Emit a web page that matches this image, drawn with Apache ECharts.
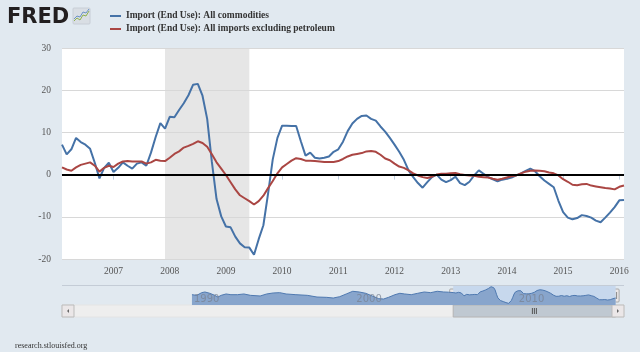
<!DOCTYPE html>
<html>
<head>
<meta charset="utf-8">
<title>Import prices</title>
<script src="https://cdn.jsdelivr.net/npm/echarts@6/dist/echarts.min.js"></script>
<style>
html, body { margin: 0; padding: 0; background: #e1e9f0; }
#chart { width: 640px; height: 352px; }
</style>
</head>
<body>
<div id="chart"></div>
<script>
// monthly, Feb 2006 .. Feb 2016, % change from year ago
var startYear = 2006, startMonth = 2;
var allCommodities = [
  7.1, 4.8, 6.0, 8.7, 7.7, 7.1, 6.1, 2.8, -0.9, 1.6,
  2.8, 0.6, 1.6, 2.9, 2.1, 1.4, 2.6, 2.9, 2.1, 5.2,
  8.9, 12.2, 10.9, 13.7, 13.6, 15.3, 16.9, 18.8, 21.3, 21.5,
  18.7, 13.2, 3.0, -5.8, -9.9, -12.3, -12.5, -14.7, -16.3, -17.2,
  -17.3, -19.0, -15.3, -12.0, -4.5, 3.6, 8.7, 11.6, 11.6, 11.5,
  11.5, 7.9, 4.5, 5.2, 4.0, 3.8, 4.0, 4.3, 5.4, 6.0,
  7.8, 10.3, 12.1, 13.2, 13.9, 14.0, 13.2, 12.8, 11.4, 10.2,
  8.7, 7.1, 5.4, 3.5, 1.0, -0.6, -2.0, -3.1, -1.8, -0.6,
  0.0, -1.2, -1.8, -1.3, -0.5, -2.0, -2.5, -1.7, -0.2, 1.0,
  0.2, -0.6, -1.1, -1.6, -1.2, -1.0, -0.7, -0.2, 0.3, 0.9,
  1.4, 0.8, -0.4, -1.4, -2.2, -3.0, -6.2, -8.9, -10.2, -10.6,
  -10.3, -9.6, -9.8, -10.2, -10.9, -11.3, -10.2, -9.0, -7.7, -6.1,
  -6.0
];
var exPetroleum = [
  1.7, 1.2, 0.9, 1.7, 2.3, 2.6, 2.9, 2.1, 0.7, 1.6,
  2.1, 1.8, 2.6, 3.1, 3.2, 3.1, 3.1, 3.1, 2.6, 2.9,
  3.5, 3.3, 3.2, 4.0, 4.9, 5.5, 6.4, 6.8, 7.3, 7.9,
  7.5, 6.6, 4.8, 2.9, 1.4, -0.1, -1.8, -3.5, -4.9, -5.6,
  -6.3, -7.1, -6.3, -5.0, -3.2, -1.5, 0.3, 1.7, 2.5, 3.3,
  3.9, 3.7, 3.3, 3.3, 3.2, 3.1, 3.0, 3.0, 3.0, 3.2,
  3.7, 4.3, 4.7, 4.9, 5.1, 5.5, 5.6, 5.4, 4.7, 3.8,
  3.4, 2.6, 1.9, 1.6, 1.0, 0.3, -0.2, -0.6, -0.8, -0.5,
  0.0, 0.2, 0.2, 0.3, 0.4, 0.1, -0.1, -0.2, -0.3, -0.5,
  -0.6, -0.7, -1.0, -1.2, -1.0, -0.7, -0.4, -0.2, 0.3, 0.7,
  0.9, 1.0, 0.9, 0.8, 0.5, 0.3, -0.2, -1.1, -1.7, -2.4,
  -2.5, -2.3, -2.2, -2.6, -2.8, -3.0, -3.2, -3.3, -3.5, -2.9,
  -2.6
];
var seriesNames = ['Import (End Use): All commodities', 'Import (End Use): All imports excluding petroleum'];
var recession = ['2007-12', '2009-06'];

// navigator: all commodities before 2006
var navYears = [1990.0, 1990.3, 1990.6, 1990.8, 1991.1, 1991.4, 1991.6, 1991.8, 1992.1, 1992.4,
  1992.8, 1993.2, 1993.6, 1994.2, 1994.6, 1995.0, 1995.4, 1995.8, 1996.4, 1997.1,
  1997.7, 1998.3, 1998.7, 1999.1, 1999.5, 1999.9, 2000.3, 2000.7, 2001.1, 2001.5,
  2001.8, 2002.1, 2002.5, 2002.8, 2003.1, 2003.5, 2003.9, 2004.3, 2004.7, 2005.1,
  2005.5, 2005.8];
var navValues = [2.0, 0.4, 6.9, 8.5, 5.3, 0.4, -3.7, 0.4, 3.7, 2.0,
  2.0, 3.7, 0.4, -1.2, 3.7, 6.1, 6.9, 3.7, 2.0, 0.4,
  -3.7, -4.5, -6.1, -2.8, 3.7, 10.2, 8.5, 5.3, -1.2, -7.7,
  -8.5, -4.5, 2.0, 5.3, 3.7, 2.0, 5.3, 8.5, 6.9, 10.2,
  8.5, 8.0];
var navLabels = [1990, 2000, 2010];

var months = [];
for (var i = 0; i < allCommodities.length; i++) {
  var t = startYear * 12 + startMonth - 1 + i;
  var yy = Math.floor(t / 12), mm = t % 12 + 1;
  months.push(yy + '-' + (mm < 10 ? '0' : '') + mm);
}
var navStart = startYear + (startMonth - 1) / 12;
var navEnd = navStart + (allCommodities.length - 1) / 12;
var navData = [];
for (var i = 0; i < navYears.length; i++) navData.push([navYears[i], navValues[i]]);
for (var i = 0; i < allCommodities.length; i++) navData.push([navStart + i / 12, allCommodities[i]]);

function isJan(idx, v) { return v.slice(5) === '01'; }

var serif = '"Liberation Serif", serif';
var chart = echarts.init(document.getElementById('chart'), null, { renderer: 'canvas' });
var option = {
  backgroundColor: '#e1e9f0',
  animation: false,
  legend: {
    orient: 'vertical', left: 110, top: 10, padding: 0,
    itemWidth: 11, itemHeight: 2, itemGap: 1, icon: 'rect',
    data: seriesNames,
    textStyle: { fontFamily: serif, fontWeight: 'bold', fontSize: 9.5, color: '#333', lineHeight: 12 }
  },
  grid: [
    { left: 62, right: 16, top: 48, height: 211, show: true, backgroundColor: '#fff', borderWidth: 0 },
    { left: 62, right: 16, top: 286, height: 19 }
  ],
  xAxis: [
    {
      type: 'category', gridIndex: 0, data: months, boundaryGap: false,
      axisLine: { lineStyle: { color: '#c0d0e0', width: 1 } },
      axisTick: { interval: isJan, length: 5, lineStyle: { color: '#c0d0e0' } },
      axisLabel: { interval: isJan, formatter: function (v) { return v.slice(0, 4); },
        fontFamily: serif, fontSize: 9.5, color: '#555', margin: 7 },
      splitLine: { show: false }
    },
    {
      type: 'value', gridIndex: 1, min: 1982, max: 2016.6, show: false
    }
  ],
  yAxis: [
    {
      type: 'value', gridIndex: 0, min: -20, max: 30, interval: 10, z: 1.5,
      axisLine: { show: false }, axisTick: { show: false },
      axisLabel: { fontFamily: serif, fontSize: 9.5, color: '#555', margin: 11 },
      splitLine: { lineStyle: { color: '#d8d8d8' } }
    },
    { type: 'value', gridIndex: 1, min: -23, max: 23, show: false }
  ],
  series: [
    {
      type: 'line', xAxisIndex: 0, yAxisIndex: 0, data: [], z: 1, silent: true,
      markArea: { silent: true, itemStyle: { color: '#e6e6e6' },
        data: [[{ xAxis: recession[0] }, { xAxis: recession[1] }]] }
    },
    {
      name: seriesNames[0], type: 'line', xAxisIndex: 0, yAxisIndex: 0, data: allCommodities,
      symbol: 'none', color: '#4572a7', lineStyle: { width: 2, color: '#4572a7' }, z: 2
    },
    {
      name: seriesNames[1], type: 'line', xAxisIndex: 0, yAxisIndex: 0, data: exPetroleum,
      symbol: 'none', color: '#aa4643', lineStyle: { width: 2, color: '#aa4643' }, z: 2
    },
    {
      type: 'line', xAxisIndex: 0, yAxisIndex: 0, data: [], z: 3, silent: true,
      markLine: { symbol: 'none', silent: true, label: { show: false },
        lineStyle: { color: '#000', width: 2, type: 'solid' }, data: [{ yAxis: 0 }] }
    },
    {
      type: 'line', xAxisIndex: 1, yAxisIndex: 1, data: [], z: 1, silent: true,
      markArea: { silent: true, itemStyle: { color: '#c7d8ed' },
        data: [[{ xAxis: navStart }, { xAxis: navEnd }]] }
    },
    {
      type: 'line', xAxisIndex: 1, yAxisIndex: 1, data: navData, symbol: 'none', z: 2, silent: true,
      lineStyle: { width: 1, color: '#4f79b0' },
      areaStyle: { color: '#88a5cc', opacity: 1, origin: 'start' }
    }
  ]
};
chart.setOption(option);

// navigator handles, labels + scrollbar, placed with the navigator axis
var pL = chart.convertToPixel({ gridIndex: 1 }, [navStart, 0])[0];
var pR = chart.convertToPixel({ gridIndex: 1 }, [navEnd, 0])[0];
var x0 = 62, x1 = 624, sy = 305, sh = 12;
function handle(x) {
  return {
    type: 'group', children: [
      { type: 'rect', shape: { x: x - 3.5, y: 289, width: 7, height: 13, r: 1 },
        style: { fill: '#ebe7e8', stroke: '#a8a8a8', lineWidth: 1 } },
      { type: 'line', shape: { x1: x - 1, y1: 292, x2: x - 1, y2: 299 }, style: { stroke: '#888', lineWidth: 1 } },
      { type: 'line', shape: { x1: x + 1, y1: 292, x2: x + 1, y2: 299 }, style: { stroke: '#888', lineWidth: 1 } }
    ]
  };
}
var mid = (pL + pR) / 2;
var gfx = [
  { type: 'text', left: 7, top: 7, style: { text: 'FRED', font: 'bold 21px "DejaVu Sans"', fill: '#231f20' } },
  { type: 'rect', shape: { x: 73, y: 8, width: 17, height: 16, r: 1 },
    style: { fill: '#d9dee4', stroke: '#c8ced6' } },
  { type: 'polyline', shape: { points: [[74, 21], [77, 18], [80, 20], [83, 15], [86, 16], [89, 11]] },
    style: { stroke: '#8fb14f', lineWidth: 1, fill: null } },
  { type: 'polyline', shape: { points: [[74, 19], [77, 16], [80, 17], [83, 12], [86, 13], [89, 9]] },
    style: { stroke: '#6b93c7', lineWidth: 1, fill: null } },
  { type: 'line', shape: { x1: x0, y1: 285.5, x2: x1, y2: 285.5 }, style: { stroke: '#c4ccd6', lineWidth: 1 } },
  { type: 'rect', shape: { x: x0, y: sy, width: x1 - x0, height: sh },
    style: { fill: '#eeeeee', stroke: '#e4e4e4' } },
  { type: 'rect', shape: { x: pL, y: sy, width: pR - pL, height: sh },
    style: { fill: '#bfc8d1', stroke: '#b4b4b4' } },
  { type: 'line', shape: { x1: mid - 2, y1: sy + 3, x2: mid - 2, y2: sy + 9 }, style: { stroke: '#555', lineWidth: 1 } },
  { type: 'line', shape: { x1: mid, y1: sy + 3, x2: mid, y2: sy + 9 }, style: { stroke: '#555', lineWidth: 1 } },
  { type: 'line', shape: { x1: mid + 2, y1: sy + 3, x2: mid + 2, y2: sy + 9 }, style: { stroke: '#555', lineWidth: 1 } },
  { type: 'rect', shape: { x: x0, y: sy, width: 12, height: sh },
    style: { fill: '#ebe7e8', stroke: '#bbbbbb' } },
  { type: 'polygon', shape: { points: [[x0 + 7, sy + 4], [x0 + 7, sy + 8], [x0 + 5, sy + 6]] }, style: { fill: '#666' } },
  { type: 'rect', shape: { x: x1 - 12, y: sy, width: 12, height: sh },
    style: { fill: '#ebe7e8', stroke: '#bbbbbb' } },
  { type: 'polygon', shape: { points: [[x1 - 7, sy + 4], [x1 - 7, sy + 8], [x1 - 5, sy + 6]] }, style: { fill: '#666' } },
  handle(pL),
  handle(pR),
  { type: 'text', left: 15, top: 342, style: { text: 'research.stlouisfed.org', font: '8px "Liberation Serif"', fill: '#333' } }
];
navLabels.forEach(function (yr) {
  var px = chart.convertToPixel({ gridIndex: 1 }, [yr, 0])[0];
  gfx.push({ type: 'text', x: px + 2, y: 299, z: 10,
    style: { text: String(yr), font: '10px "DejaVu Sans"', fill: 'rgba(120,130,145,0.75)', verticalAlign: 'middle' } });
});
chart.setOption({ graphic: gfx });
</script>
</body>
</html>
